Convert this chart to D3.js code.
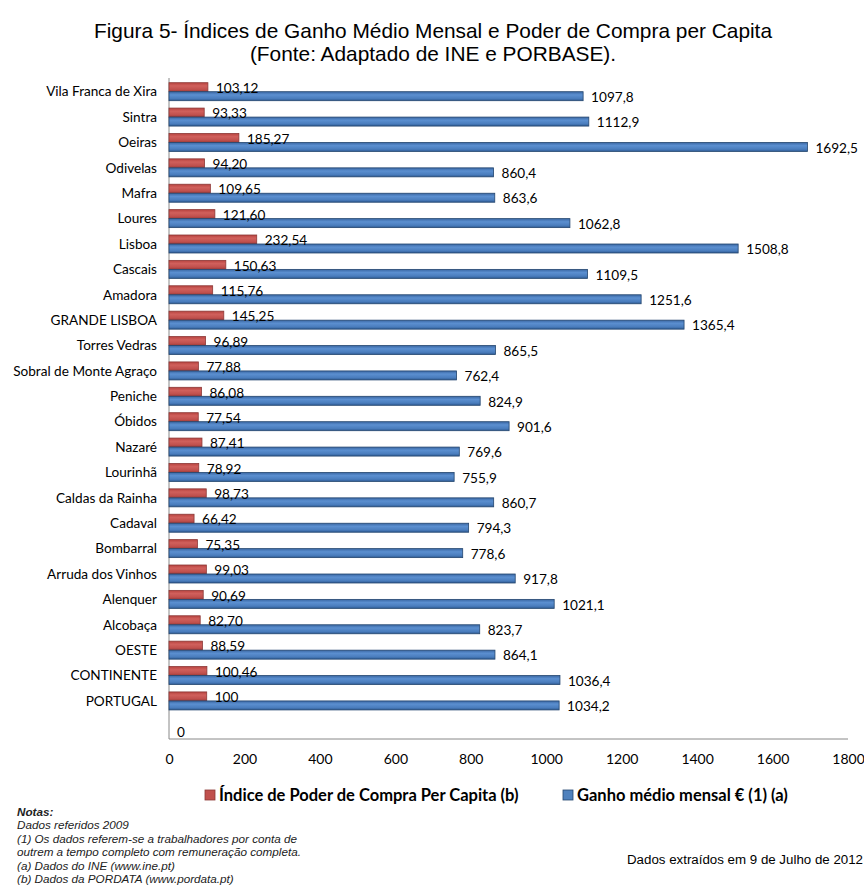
<!DOCTYPE html>
<html>
<head>
<meta charset="utf-8">
<script src="https://cdn.jsdelivr.net/npm/d3@7"></script>
<style>
  html, body { margin: 0; padding: 0; background: #fff; }
  svg { display: block; }
</style>
</head>
<body>
<svg id="chart" width="864" height="886"></svg>
<script>
// Municipalities / regions, top to bottom; the last (empty) row carries a lone "0" label
const categories = [
  "Vila Franca de Xira", "Sintra", "Oeiras", "Odivelas", "Mafra", "Loures", "Lisboa",
  "Cascais", "Amadora", "GRANDE LISBOA", "Torres Vedras", "Sobral de Monte Agraço",
  "Peniche", "Óbidos", "Nazaré", "Lourinhã", "Caldas da Rainha", "Cadaval",
  "Bombarral", "Arruda dos Vinhos", "Alenquer", "Alcobaça", "OESTE", "CONTINENTE",
  "PORTUGAL", ""
];
// Índice de Poder de Compra Per Capita (b)
const poderCompra = [
  103.12, 93.33, 185.27, 94.20, 109.65, 121.60, 232.54, 150.63, 115.76, 145.25,
  96.89, 77.88, 86.08, 77.54, 87.41, 78.92, 98.73, 66.42, 75.35, 99.03, 90.69,
  82.70, 88.59, 100.46, 100, null
];
// Ganho médio mensal € (1) (a)
const ganhoMedio = [
  1097.8, 1112.9, 1692.5, 860.4, 863.6, 1062.8, 1508.8, 1109.5, 1251.6, 1365.4,
  865.5, 762.4, 824.9, 901.6, 769.6, 755.9, 860.7, 794.3, 778.6, 917.8, 1021.1,
  823.7, 864.1, 1036.4, 1034.2, 0
];
const xTicks = [0, 200, 400, 600, 800, 1000, 1200, 1400, 1600, 1800];
const seriesNames = ["Índice de Poder de Compra Per Capita (b)", "Ganho médio mensal € (1) (a)"];
const titleLines = [
  "Figura 5- Índices de Ganho Médio Mensal e Poder de Compra per Capita",
  "(Fonte: Adaptado de INE e PORBASE)."
];
const notes = [
  "Notas:",
  "Dados referidos 2009",
  "(1) Os dados referem-se a trabalhadores por conta de",
  "outrem a tempo completo com remuneração completa.",
  "(a) Dados do INE (www.ine.pt)",
  "(b) Dados da PORDATA (www.pordata.pt)"
];
const extractNote = "Dados extraídos em 9 de Julho de 2012";

const fmt = v => String(v).replace(".", ",");
const fmt2 = v => (v === 100 ? "100" : v.toFixed(2).replace(".", ","));

const svg = d3.select("#chart");
const plot = { left: 169, right: 848, top: 79, bottom: 739 };
const labelFont = "Lato, 'Open Sans', sans-serif";
const labelSize = 13.6;

// gradients giving the bars their bevelled look
const defs = svg.append("defs");
function grad(id, stops) {
  const g = defs.append("linearGradient").attr("id", id)
    .attr("x1", 0).attr("y1", 0).attr("x2", 0).attr("y2", 1);
  stops.forEach(([o, c]) => g.append("stop").attr("offset", o).attr("stop-color", c));
}
grad("gRed", [[0, "#b8433f"], [0.35, "#d0605c"], [0.75, "#c0504d"], [1, "#9a3a37"]]);
grad("gBlue", [[0, "#3a67a3"], [0.35, "#5b8fd0"], [0.75, "#4a7dbd"], [1, "#2e5a92"]]);

const x = d3.scaleLinear().domain([0, 1800]).range([plot.left, plot.right]);
const y = d3.scaleBand().domain(d3.range(categories.length)).range([plot.top, plot.bottom]);
const sub = d3.scaleBand().domain(["red", "blue"]).range([0, y.bandwidth()])
  .paddingInner(0).paddingOuter(0.41);

// title
const title = svg.append("g").attr("font-family", "'Liberation Sans', Arial, sans-serif")
  .attr("font-size", 21).attr("fill", "#000").attr("text-anchor", "middle");
const t1 = title.append("text").attr("x", 433).attr("y", 38).text(titleLines[0]);
const squeeze = 678 / t1.node().getComputedTextLength();
t1.attr("textLength", 678).attr("lengthAdjust", "spacingAndGlyphs");
const t2 = title.append("text").attr("x", 433).attr("y", 61).text(titleLines[1]);
t2.attr("textLength", t2.node().getComputedTextLength() * squeeze).attr("lengthAdjust", "spacingAndGlyphs");

// axes
svg.append("line").attr("x1", plot.left).attr("x2", plot.left)
  .attr("y1", plot.top - 1).attr("y2", plot.bottom).attr("stroke", "#888").attr("stroke-width", 1);
svg.append("line").attr("x1", plot.left).attr("x2", plot.right)
  .attr("y1", plot.bottom).attr("y2", plot.bottom).attr("stroke", "#888").attr("stroke-width", 1);

const xAxis = svg.append("g").attr("transform", `translate(0,${plot.bottom})`)
  .call(d3.axisBottom(x).tickValues(xTicks).tickSize(0).tickPadding(15).tickFormat(d => d));
xAxis.select(".domain").remove();
xAxis.selectAll("text").attr("font-family", labelFont).attr("font-size", 14).attr("fill", "#000");

const yAxis = svg.append("g").attr("transform", `translate(${plot.left},0)`)
  .call(d3.axisLeft(y).tickSize(0).tickPadding(12).tickFormat(i => categories[i]));
yAxis.select(".domain").remove();
yAxis.selectAll("text").attr("font-family", labelFont).attr("font-size", labelSize).attr("fill", "#000")
  .attr("dy", "0.35em").attr("transform", d => `translate(0,${-y.bandwidth() / 2 + sub("blue")})`);

// bars
const rows = svg.append("g").selectAll("g").data(d3.range(categories.length)).join("g")
  .attr("transform", i => `translate(0,${y(i)})`);

rows.filter(i => poderCompra[i] != null).append("rect")
  .attr("x", x(0)).attr("y", sub("red"))
  .attr("width", i => x(poderCompra[i]) - x(0)).attr("height", sub.bandwidth())
  .attr("fill", "url(#gRed)").attr("stroke", "#8c3836").attr("stroke-width", 0.8);

rows.filter(i => ganhoMedio[i] > 0).append("rect")
  .attr("x", x(0)).attr("y", sub("blue"))
  .attr("width", i => x(ganhoMedio[i]) - x(0)).attr("height", sub.bandwidth())
  .attr("fill", "url(#gBlue)").attr("stroke", "#24466f").attr("stroke-width", 0.8);

// value labels
rows.filter(i => poderCompra[i] != null).append("text")
  .attr("x", i => x(poderCompra[i]) + 8).attr("y", sub("red") + sub.bandwidth() / 2 + 1)
  .attr("dy", "0.35em").attr("font-family", labelFont).attr("font-size", labelSize).attr("fill", "#000")
  .text(i => fmt2(poderCompra[i]));

rows.filter(i => ganhoMedio[i] != null).append("text")
  .attr("x", i => x(ganhoMedio[i]) + 8).attr("y", sub("blue") + sub.bandwidth() / 2 + 1)
  .attr("dy", "0.35em").attr("font-family", labelFont).attr("font-size", labelSize).attr("fill", "#000")
  .text(i => fmt(ganhoMedio[i]));

// legend
const legend = svg.append("g").attr("font-family", labelFont).attr("font-size", 16.5)
  .attr("font-weight", "bold").attr("fill", "#000");
const legendItems = [
  { name: seriesNames[0], x: 205, fill: "#c0504d", stroke: "#8c3836" },
  { name: seriesNames[1], x: 563, fill: "#4f81bd", stroke: "#24466f" }
];
legendItems.forEach(d => {
  legend.append("rect").attr("x", d.x).attr("y", 790).attr("width", 10).attr("height", 10)
    .attr("fill", d.fill).attr("stroke", d.stroke).attr("stroke-width", 0.8);
  legend.append("text").attr("x", d.x + 14).attr("y", 795).attr("dy", "0.35em").text(d.name);
});

// notes
const noteG = svg.append("g").attr("font-family", "'Liberation Sans', Arial, sans-serif")
  .attr("font-size", 11.7).attr("font-style", "italic").attr("fill", "#222");
notes.forEach((n, i) => {
  noteG.append("text").attr("x", 17).attr("y", 816 + i * 13.4)
    .attr("font-weight", i === 0 ? "bold" : "normal").text(n);
});

svg.append("text").attr("x", 863).attr("y", 864).attr("text-anchor", "end")
  .attr("font-family", "'Liberation Sans', Arial, sans-serif").attr("font-size", 12.5)
  .attr("fill", "#000").attr("textLength", 236).attr("lengthAdjust", "spacingAndGlyphs")
  .text(extractNote);
</script>
</body>
</html>
